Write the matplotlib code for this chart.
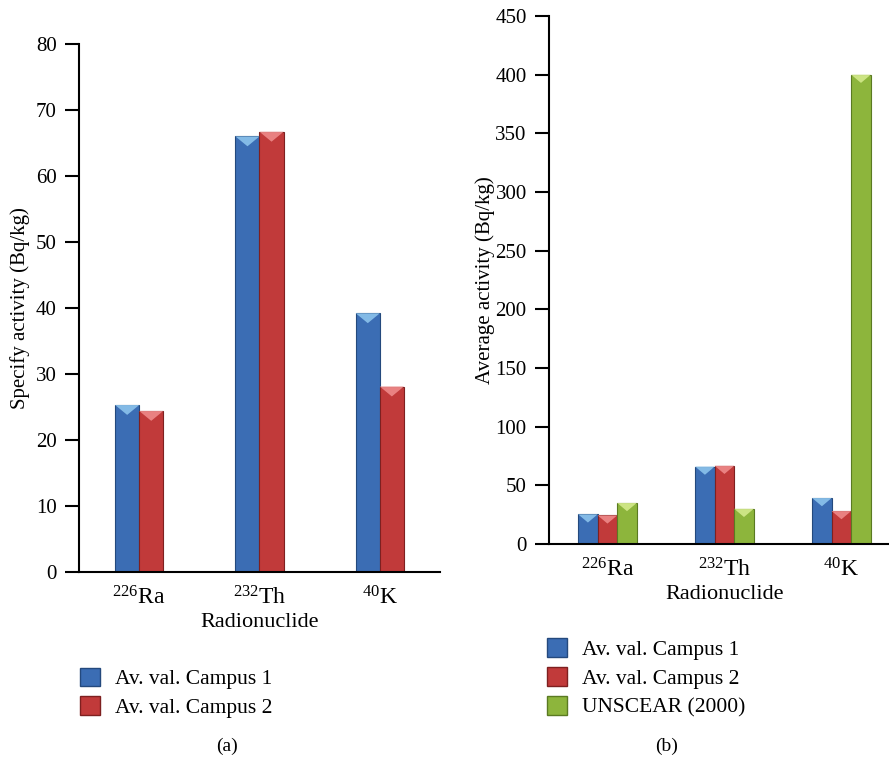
import numpy as np
import matplotlib
matplotlib.use("Agg")
import matplotlib.pyplot as plt
import matplotlib.patches as mpatches
from matplotlib.patches import Polygon

plt.rcParams["font.family"] = ["Liberation Serif", "DejaVu Serif"]
plt.rcParams["mathtext.fontset"] = "custom"
plt.rcParams["mathtext.rm"] = "Liberation Serif"
plt.rcParams["mathtext.it"] = "Liberation Serif:italic"

# =========================
# DATA
# =========================
nuclides = [r"$^{226}$Ra", r"$^{232}$Th", r"$^{40}$K"]
campus1 = [25.3, 66.0, 39.2]
campus2 = [24.4, 66.7, 28.1]
unscear = [35, 30, 400]

labels = ["Av. val. Campus 1", "Av. val. Campus 2", "UNSCEAR (2000)"]
colors = ["#3b6db4", "#c13a3a", "#8db53c"]
tops = ["#8cc3ec", "#ee8a8a", "#d4ea8c"]
edges = ["#24497d", "#7e2020", "#5a7a22"]

FS = 15


def bevel_bars(ax, xs, vals, width, k, depth):
    bars = ax.bar(xs, vals, width, color=colors[k], edgecolor=edges[k],
                  linewidth=0.8, zorder=2)
    for b in bars:
        x0, w, h = b.get_x(), b.get_width(), b.get_height()
        tri = Polygon([(x0, h), (x0 + w, h), (x0 + w / 2, h - depth)],
                      closed=True, facecolor=tops[k], edgecolor="none",
                      alpha=0.9, zorder=3)
        ax.add_patch(tri)


def style(ax):
    ax.spines["top"].set_visible(False)
    ax.spines["right"].set_visible(False)
    ax.spines["left"].set_linewidth(1.5)
    ax.spines["bottom"].set_linewidth(1.5)
    ax.tick_params(axis="y", direction="out", length=10, width=1.5,
                   labelsize=FS, pad=6)
    ax.tick_params(axis="x", length=0, labelsize=FS + 2, pad=10)


fig = plt.figure(figsize=(8.89, 7.6), dpi=100)

# =========================
# (a)
# =========================
ax1 = fig.add_axes([0.0889, 0.2474, 0.406, 0.6947])
x = np.arange(len(nuclides))
w = 0.2
bevel_bars(ax1, x - w / 2, campus1, w, 0, 1.5)
bevel_bars(ax1, x + w / 2, campus2, w, 1, 1.5)
ax1.set_xlim(-0.5, 2.5)
ax1.set_ylim(0, 80)
ax1.set_yticks(range(0, 81, 10))
ax1.set_xticks(x)
ax1.set_xticklabels(nuclides)
ax1.set_xlabel("Radionuclide", fontsize=FS + 1, labelpad=3)
ax1.set_ylabel("Specify activity (Bq/kg)", fontsize=FS, labelpad=4)
style(ax1)

h1 = [mpatches.Patch(facecolor=colors[i], edgecolor=edges[i], label=labels[i])
      for i in range(2)]
fig.legend(handles=h1, loc="upper left", bbox_to_anchor=(0.068, 0.147),
           frameon=False, fontsize=FS + 0.5, handlelength=0.95, handleheight=0.95,
           handletextpad=0.7, labelspacing=0.32)

# =========================
# (b)
# =========================
ax2 = fig.add_axes([0.6175, 0.2842, 0.3948, 0.6947])
w2 = 0.167
bevel_bars(ax2, x - w2, campus1, w2, 0, 7)
bevel_bars(ax2, x, campus2, w2, 1, 7)
bevel_bars(ax2, x + w2, unscear, w2, 2, 7)
ax2.set_xlim(-0.5, 2.5)
ax2.set_ylim(0, 450)
ax2.set_yticks(range(0, 451, 50))
ax2.set_xticks(x)
ax2.set_xticklabels(nuclides)
ax2.set_xlabel("Radionuclide", fontsize=FS + 1, labelpad=3)
ax2.set_ylabel("Average activity (Bq/kg)", fontsize=FS, labelpad=0)
style(ax2)

h2 = [mpatches.Patch(facecolor=colors[i], edgecolor=edges[i], label=labels[i])
      for i in range(3)]
fig.legend(handles=h2, loc="upper left", bbox_to_anchor=(0.593, 0.186),
           frameon=False, fontsize=FS + 0.5, handlelength=0.95, handleheight=0.95,
           handletextpad=0.7, labelspacing=0.34)

fig.text(0.255, 0.012, "(a)", fontsize=FS - 1, ha="center")
fig.text(0.75, 0.012, "(b)", fontsize=FS - 1, ha="center")

fig.savefig("out.png", dpi=100)
